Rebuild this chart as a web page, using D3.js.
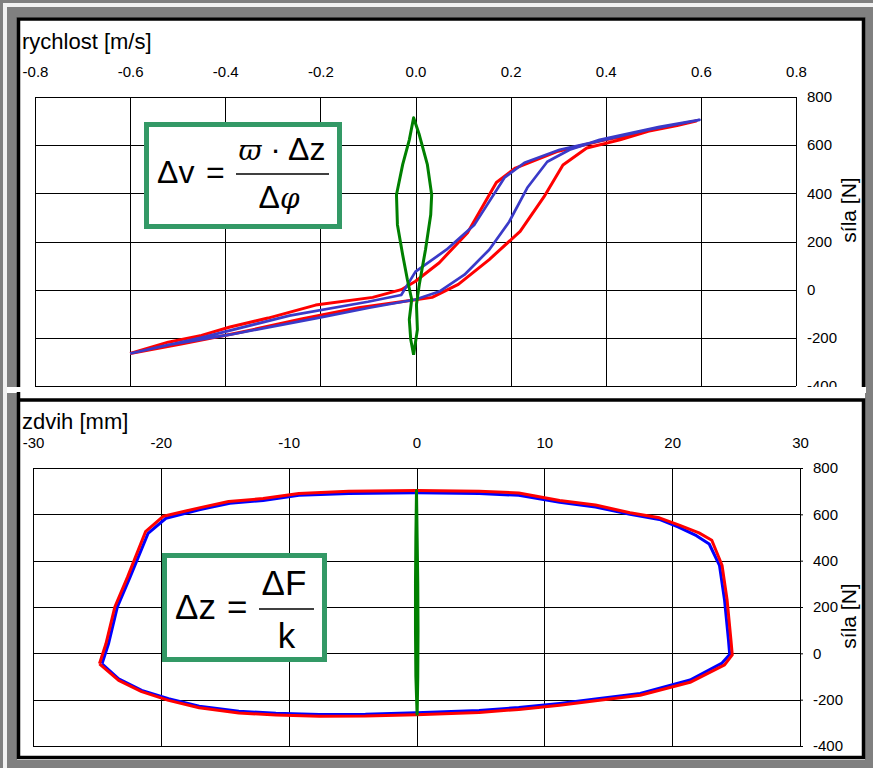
<!DOCTYPE html>
<html>
<head>
<meta charset="utf-8">
<script src="https://cdnjs.cloudflare.com/ajax/libs/d3/7.8.5/d3.min.js"></script>
<style>
  body { margin: 0; background: #808080; }
  svg { display: block; font-family: "Liberation Sans", Arial, sans-serif; }
</style>
</head>
<body>
<svg id="chart" width="873" height="768"></svg>
<script>
// ---- data ----
var rychlostTicks = [-0.8, -0.6, -0.4, -0.2, 0, 0.2, 0.4, 0.6, 0.8];
var zdvihTicks = [-30, -20, -10, 0, 10, 20, 30];
var silaTicks = [-400, -200, 0, 200, 400, 600, 800];

// rychlost [m/s] vs sila [N]
var rychlostRed = [[-0.60,-265],[-0.52,-218],[-0.45,-190],[-0.39,-155],[-0.31,-118],[-0.21,-64],[-0.09,-32],[-0.03,0],
  [0.00,35],[0.05,112],[0.11,238],[0.17,445],[0.21,505],[0.30,575],[0.39,618],[0.47,650],[0.55,682],[0.59,700],
  [0.51,670],[0.43,622],[0.36,588],[0.31,518],[0.27,385],[0.22,242],[0.155,125],[0.09,22],[0.035,-32],[0.00,-42],
  [-0.12,-75],[-0.24,-122],[-0.37,-178],[-0.49,-225],[-0.60,-265]];
var rychlostBlue = [[-0.60,-265],[-0.45,-199],[-0.265,-108],[-0.10,-50],[-0.03,-22],[0.00,75],[0.065,166],[0.124,270],
  [0.187,465],[0.229,527],[0.303,581],[0.387,618],[0.49,664],[0.597,705],
  [0.513,676],[0.387,622],[0.324,581],[0.277,531],[0.235,423],[0.197,282],[0.155,166],[0.103,62],[0.05,-8],[0.00,-41],
  [-0.097,-75],[-0.202,-116],[-0.39,-187],[-0.517,-228],[-0.60,-265]];
var rychlostGreen = [[-0.004,-270],[0.004,-166],[0.002,-62],[0.008,21],[0.021,166],[0.032,311],[0.034,394],[0.025,519],
  [0.008,643],[-0.004,714],[-0.013,622],[-0.027,519],[-0.040,394],[-0.038,270],[-0.027,145],[-0.017,41],[-0.008,-41],
  [-0.013,-124],[-0.010,-207],[-0.004,-270]];

// zdvih [mm] vs sila [N]
var zdvihRed = [[-24.8,-45],[-24.3,40],[-23.6,200],[-22.6,330],[-21.2,525],[-19.8,592],[-17,628],[-14.7,655],[-12,668],
  [-9.2,690],[-5.3,700],[0,703],[4.9,700],[8,692],[11.2,660],[14,640],[16.7,607],[19,585],[20.6,552],[22.1,520],
  [23.1,488],[23.9,380],[24.3,229],[24.6,56],[24.7,-7],[24.1,-50],[21.4,-125],[17.5,-181],[14,-205],[11.2,-224],
  [8,-242],[4.9,-255],[0,-265],[-4,-271],[-7.6,-272],[-11,-266],[-13.9,-258],[-17,-235],[-19.4,-203],[-21.5,-165],
  [-23.3,-117],[-24.8,-45]];
var zdvihBlue = [[-24.6,-45],[-24.1,40],[-23.4,200],[-22.4,330],[-21.0,518],[-19.6,583],[-17,620],[-14.6,648],[-12,660],
  [-9.2,682],[-5.3,690],[0,693],[4.9,690],[8,682],[11.2,652],[14,632],[16.7,600],[19,578],[20.5,545],[21.9,508],
  [22.9,472],[23.7,380],[24.1,229],[24.4,60],[24.5,-5],[23.9,-42],[21.4,-115],[17.5,-173],[14,-197],[11.2,-216],
  [8,-234],[4.9,-247],[0,-257],[-4,-263],[-7.6,-264],[-11,-259],[-13.9,-250],[-17,-228],[-19.4,-196],[-21.5,-160],
  [-23.3,-110],[-24.6,-45]];
var zdvihGreen = [[0.05,-268],[0.10,-100],[0.12,100],[0.10,300],[0.05,500],[0.0,703],[-0.05,500],[-0.08,300],
  [-0.08,100],[-0.05,-100],[0.05,-268]];

var svg = d3.select("#chart");

// ---- frame / background like the screenshot ----
svg.append("rect").attr("width", 873).attr("height", 768).attr("fill", "#808080");
svg.append("rect").attr("x", 3).attr("y", 3).attr("width", 870).attr("height", 4).attr("fill", "#f2f2f2");
svg.append("rect").attr("x", 3).attr("y", 3).attr("width", 4).attr("height", 765).attr("fill", "#f2f2f2");

// top panel (cut off at the bottom)
svg.append("rect").attr("x", 17).attr("y", 17).attr("width", 848).attr("height", 376).attr("fill", "#fff");
svg.append("path").attr("d", "M18.5,387V19H863.5V387").attr("fill", "none").attr("stroke", "#000").attr("stroke-width", 3.5);
svg.append("rect").attr("x", 7).attr("y", 387).attr("width", 859).attr("height", 6).attr("fill", "#fff");

// bottom panel
svg.append("rect").attr("x", 17).attr("y", 393).attr("width", 848).attr("height", 367).attr("fill", "#fff");
svg.append("path").attr("d", "M18.5,392V757.5H863.5V400H18.5").attr("fill", "none").attr("stroke", "#000").attr("stroke-width", 3.5);

svg.append("clipPath").attr("id", "topClip")
  .append("rect").attr("x", 20).attr("y", 20).attr("width", 842).attr("height", 367);

var line = d3.line();

function drawPanel(o) {
  var g = svg.append("g").attr("clip-path", o.clip ? "url(#" + o.clip + ")" : null);
  var x = d3.scaleLinear().domain(o.xDomain).range(o.xRange);
  var y = d3.scaleLinear().domain([-400, 800]).range(o.yRange);

  // grid
  g.append("g").selectAll("line").data(o.xTicks).enter().append("line")
    .attr("x1", function(d) { return Math.round(x(d)) + 0.5; })
    .attr("x2", function(d) { return Math.round(x(d)) + 0.5; })
    .attr("y1", o.yRange[1]).attr("y2", o.yRange[0])
    .attr("stroke", "#000").attr("stroke-width", 1);
  g.append("g").selectAll("line").data(silaTicks).enter().append("line")
    .attr("y1", function(d) { return Math.round(y(d)) + 0.5; })
    .attr("y2", function(d) { return Math.round(y(d)) + 0.5; })
    .attr("x1", o.xRange[0]).attr("x2", o.xRange[1])
    .attr("stroke", "#000").attr("stroke-width", 1);

  // axes
  var ax = g.append("g").attr("transform", "translate(0," + o.yRange[1] + ")")
    .call(d3.axisTop(x).tickValues(o.xTicks).tickSize(0).tickPadding(20).tickFormat(o.xFormat));
  var ay = g.append("g").attr("transform", "translate(" + o.xRange[1] + ",0)")
    .call(d3.axisRight(y).tickValues(silaTicks).tickSize(o.yTick).tickPadding(o.yPad).tickFormat(function(d) { return String(d); }));
  [ax, ay].forEach(function(a) {
    a.select(".domain").remove();
    a.selectAll("text").attr("font-size", 15).attr("fill", "#000")
      .attr("font-family", "'Liberation Sans', Arial, sans-serif");
    a.selectAll("line").attr("stroke", "#000");
  });

  // titles
  g.append("text").attr("x", 22).attr("y", o.titleY).attr("font-size", 22).text(o.title);
  g.append("text").attr("transform", "translate(856," + o.labelY + ") rotate(-90)")
    .attr("text-anchor", "middle").attr("font-size", 21).text("síla [N]");

  // series
  o.series.forEach(function(s) {
    g.append("path")
      .datum(s.data.map(function(p) { return [x(p[0]), y(p[1])]; }))
      .attr("d", line)
      .attr("fill", "none")
      .attr("stroke", s.color)
      .attr("stroke-width", s.width)
      .attr("stroke-linejoin", "round");
  });
  return g;
}

drawPanel({
  clip: "topClip",
  xDomain: [-0.8, 0.8], xRange: [35, 796], yRange: [386, 97],
  xTicks: rychlostTicks, xFormat: function(d) { return d.toFixed(1); },
  yTick: 0, yPad: 11,
  title: "rychlost [m/s]", titleY: 49, labelY: 210,
  series: [
    { data: rychlostRed, color: "#ff0000", width: 3 },
    { data: rychlostBlue, color: "#3a3ac8", width: 2.7 },
    { data: rychlostGreen, color: "#008000", width: 3 }
  ]
});

drawPanel({
  clip: null,
  xDomain: [-30, 30], xRange: [33, 800], yRange: [746, 468],
  xTicks: zdvihTicks, xFormat: function(d) { return String(d); },
  yTick: 3, yPad: 10,
  title: "zdvih [mm]", titleY: 429, labelY: 616,
  series: [
    { data: zdvihBlue, color: "#0000ff", width: 3 },
    { data: zdvihRed, color: "#ff0000", width: 3 },
    { data: zdvihGreen, color: "#008000", width: 3 }
  ]
});

// ---- formula boxes ----
function box(x0, y0, w, h) {
  svg.append("rect").attr("x", x0).attr("y", y0).attr("width", w).attr("height", h)
    .attr("fill", "#fff").attr("stroke", "#339966").attr("stroke-width", 5);
}
box(146.5, 124.5, 193, 102);
var f1 = svg.append("g").attr("font-size", 32).attr("fill", "#000");
f1.append("text").attr("x", 157).attr("y", 183).text("Δv");
f1.append("text").attr("x", 206).attr("y", 183).text("=");
var num1 = f1.append("text").attr("x", 282).attr("y", 160).attr("text-anchor", "middle");
num1.append("tspan").attr("font-family", "'DejaVu Serif', serif").attr("font-style", "italic").attr("font-size", 28).text("ϖ");
num1.append("tspan").text(" · Δz");
var den1 = f1.append("text").attr("x", 279).attr("y", 208).attr("text-anchor", "middle");
den1.append("tspan").text("Δ");
den1.append("tspan").attr("font-family", "'DejaVu Serif', serif").attr("font-style", "italic").attr("font-size", 28).text("φ");
f1.append("line").attr("x1", 236).attr("x2", 329).attr("y1", 174).attr("y2", 174).attr("stroke", "#000").attr("stroke-width", 1.5);

box(164.5, 555.5, 160, 104);
var f2 = svg.append("g").attr("font-size", 35).attr("fill", "#000");
f2.append("text").attr("x", 175).attr("y", 619).text("Δz");
f2.append("text").attr("x", 227).attr("y", 619).text("=");
f2.append("text").attr("x", 284).attr("y", 595).attr("text-anchor", "middle").text("ΔF");
f2.append("text").attr("x", 286.5).attr("y", 648).attr("text-anchor", "middle").text("k");
f2.append("line").attr("x1", 259).attr("x2", 314).attr("y1", 609).attr("y2", 609).attr("stroke", "#000").attr("stroke-width", 1.5);
</script>
</body>
</html>
